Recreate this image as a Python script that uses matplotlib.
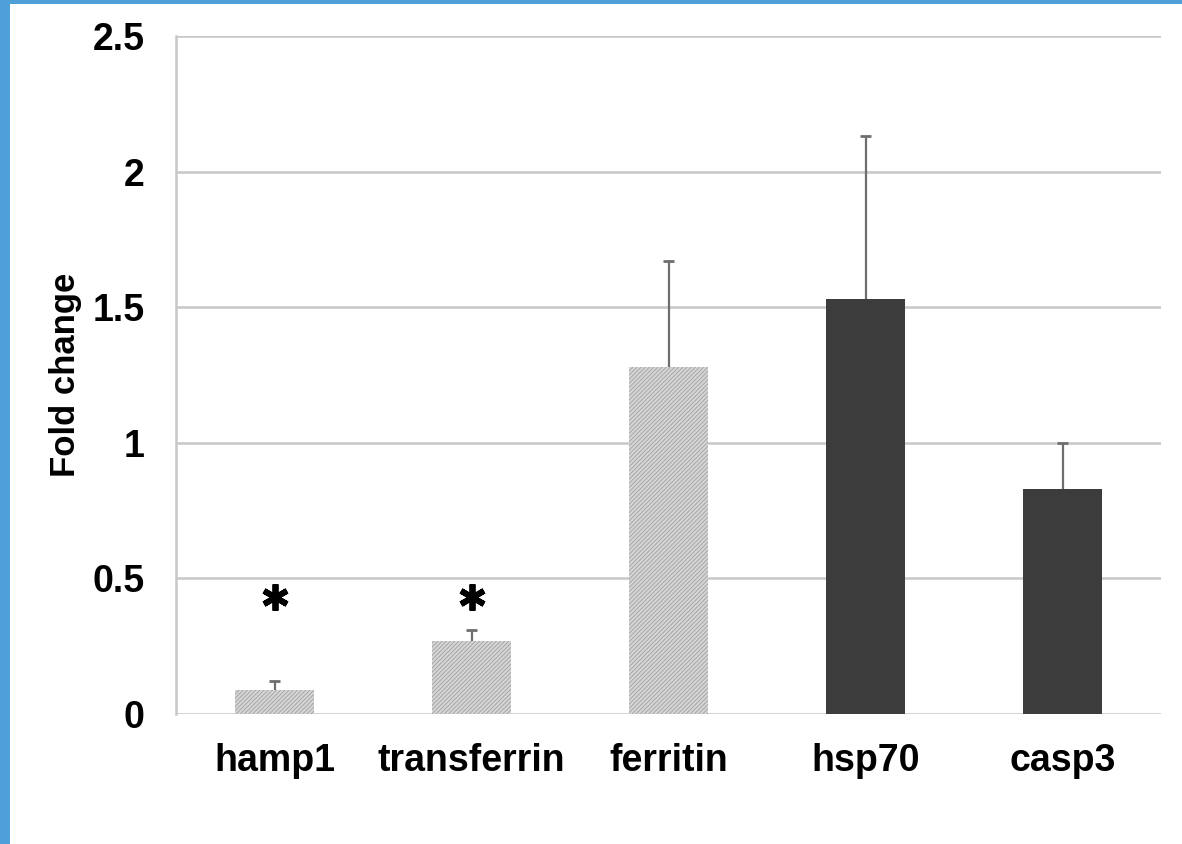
import matplotlib
matplotlib.use("Agg")
import matplotlib.pyplot as plt
from matplotlib.patches import Rectangle

# Gene expression fold changes
genes = ["hamp1", "transferrin", "ferritin", "hsp70", "casp3"]
fold_change = [0.09, 0.27, 1.28, 1.53, 0.83]
error_upper = [0.03, 0.04, 0.39, 0.60, 0.17]
significant = [True, True, False, False, False]
star_level = 0.43

plt.rcParams['font.family'] = ['Liberation Sans', 'DejaVu Sans']
plt.rcParams['hatch.linewidth'] = 0.7

fig = plt.figure(figsize=(11.82, 8.44), dpi=100)
fig.patch.set_facecolor('white')

# blue slide frame
fig.add_artist(Rectangle((0, 0), 10 / 1182, 1, transform=fig.transFigure,
                         facecolor='#4f9fd8', edgecolor='none', zorder=0))
fig.add_artist(Rectangle((0, 1 - 4 / 844), 1, 4 / 844, transform=fig.transFigure,
                         facecolor='#4f9fd8', edgecolor='none', zorder=0))

ax = fig.add_axes([176 / 1182, 1 - 714 / 844, (1161 - 176) / 1182, (714 - 36) / 844])

x = list(range(len(genes)))
bar_w = 0.4
cap_half = 0.03
for i, (v, e) in enumerate(zip(fold_change, error_upper)):
    if i < 3:
        ax.bar(i, v, width=bar_w, facecolor='#d6d6d6', edgecolor='#a6a6a6',
               hatch='////////', linewidth=0, zorder=3)
    else:
        ax.bar(i, v, width=bar_w, color='#3c3c3c', linewidth=0, zorder=3)
    # upper error bar only
    ax.vlines(i, v, v + e, color='#6e6e6e', linewidth=1.6, zorder=4)
    ax.hlines(v + e, i - cap_half, i + cap_half, color='#6e6e6e',
              linewidth=2.0, zorder=4)

for i, s in enumerate(significant):
    if s:
        ax.plot(i, star_level, marker=(6, 2, 0), markersize=19,
                markeredgewidth=4.2, color='black', zorder=5,
                solid_capstyle='round')

ax.set_xlim(-0.5, len(genes) - 0.5)
ax.set_ylim(0, 2.5)
ax.set_yticks([0, 0.5, 1, 1.5, 2, 2.5])
ax.set_yticklabels(['0', '0.5', '1', '1.5', '2', '2.5'])
ax.set_xticks(x)
ax.set_xticklabels(genes)

ax.yaxis.grid(True, color='#c8c8c8', linewidth=1.8, zorder=0)
ax.set_axisbelow(True)
for side in ['top', 'right', 'bottom']:
    ax.spines[side].set_visible(False)
ax.spines['left'].set_color('#c8c8c8')
ax.spines['left'].set_linewidth(1.8)

ax.tick_params(axis='both', length=0, labelsize=27)
ax.tick_params(axis='x', pad=21)
ax.tick_params(axis='y', pad=22.5)
for lab in ax.get_xticklabels() + ax.get_yticklabels():
    lab.set_fontweight('bold')

ax.set_ylabel('Fold change', fontsize=25, fontweight='bold', labelpad=8)

fig.savefig('out.png', dpi=100, facecolor='white')
